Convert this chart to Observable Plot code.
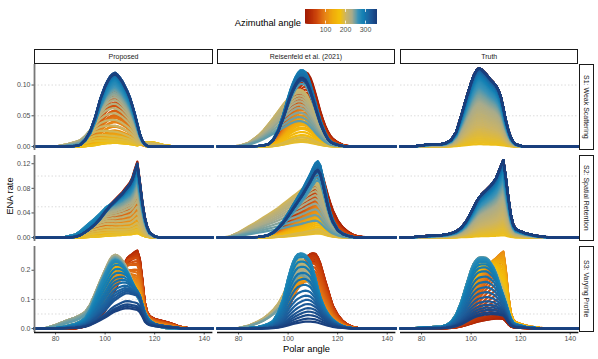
<!DOCTYPE html>
<html><head><meta charset="utf-8">
<script src="https://cdn.jsdelivr.net/npm/d3@7"></script>
<script src="https://cdn.jsdelivr.net/npm/@observablehq/plot@0.6"></script>
<style>
body{margin:0;background:#fff;font-family:"Liberation Sans",Arial,sans-serif;}
#chart{position:relative;width:598px;height:359px;overflow:hidden;background:#fff;}
.strip{position:absolute;box-sizing:border-box;border:1px solid #1a1a1a;background:#fff;font-size:7px;color:#1a1a1a;display:flex;align-items:center;justify-content:center;white-space:nowrap;}
.vt{writing-mode:vertical-rl;}
.title{position:absolute;font-size:9.3px;color:#000;white-space:nowrap;}
</style></head><body><div id="chart"></div>
<script>
// ---------------- categories / labels ----------------
const methods = ["Proposed", "Reisenfeld et al. (2021)", "Truth"];
const scenarios = ["S1: Weak Scattering", "S2: Spatial Retention", "S3: Varying Profile"];
const azimuths = [0,5,10,15,20,25,30,35,40,45,50,55,60,65,70,75,80,85,90,95,100,105,110,115,120,125,130,135,140,145,150,155,160,165,170,175,
  180,185,190,195,200,205,210,215,220,225,230,235,240,245,250,255,260,265,270,275,280,285,290,295,300,305,310,315,320,325,330,335,340,345,350,355];
const azimuthsFine = [0,2.5,5,7.5,10,12.5,15,17.5,20,22.5,25,27.5,30,32.5,35,37.5,40,42.5,45,47.5,50,52.5,55,57.5,60,62.5,65,67.5,70,72.5,75,77.5,80,82.5,85,87.5,
  90,92.5,95,97.5,100,102.5,105,107.5,110,112.5,115,117.5,120,122.5,125,127.5,130,132.5,135,137.5,140,142.5,145,147.5,150,152.5,155,157.5,160,162.5,165,167.5,170,172.5,175,177.5,
  180,182.5,185,187.5,190,192.5,195,197.5,200,202.5,205,207.5,210,212.5,215,217.5,220,222.5,225,227.5,230,232.5,235,237.5,240,242.5,245,247.5,250,252.5,255,257.5,260,262.5,265,267.5,
  270,272.5,275,277.5,280,282.5,285,287.5,290,292.5,295,297.5,300,302.5,305,307.5,310,312.5,315,317.5,320,322.5,325,327.5,330,332.5,335,337.5,340,342.5,345,347.5,350,352.5,355,357.5];
const polar = [71.5,76,80,84,88,90,92,94,96,98,100,101,102,103,104,105,106,107,108,109,110,111,112,113,114,115,116,117,118,120,122,124,126,128,130,134,138,143.5];
const xTicks = [80, 100, 120, 140];
const yTicks = [[0, 0.05, 0.10], [0, 0.04, 0.08, 0.12], [0, 0.1, 0.2]];
const gridValues = [0.05, 0.1];
const legendTicks = [100, 200, 300];
const legendStops = [0,4,8,12,16,20,24,28,32,36,40,44,48,52,56,60,64,68,72,76,80,84,88,92,96,100,104,108,112,116,120,124,128,132,136,140,144,148,152,156,160,164,168,172,176,
  180,184,188,192,196,200,204,208,212,216,220,224,228,232,236,240,244,248,252,256,260,264,268,272,276,280,284,288,292,296,300,304,308,312,316,320,324,328,332,336,340,344,348,352,356];
const paletteDomain = [0, 30, 60, 100, 140, 175, 205, 235, 265, 290, 325, 360];
const paletteColors = ["#9e1a04","#b82e07","#d04a0c","#e68317","#f0ac0c","#f4c10a","#cbb466","#a8ab8c","#3a93b8","#1380b4","#1d5e9c","#193b79"];

// ---------------- profile shapes (ENA rate vs polar angle) ----------------
const s1Truth = [0,0,0.002,0.004,0.004,0.006,0.011,0.024,0.05,0.078,0.104,0.115,0.123,0.127,0.126,0.122,0.118,0.113,0.108,0.104,0.099,0.092,0.081,0.063,0.043,0.027,0.015,0.008,0.004,0.001,0,0,0,0,0,0,0,0];
const s1PropMain = [0,0,0,0,0.001,0.003,0.011,0.025,0.048,0.077,0.099,0.107,0.114,0.118,0.12,0.117,0.112,0.106,0.098,0.09,0.08,0.067,0.053,0.037,0.021,0.01,0.004,0.001,0,0,0,0,0,0,0,0,0,0];
const s1PropLeft = [0,0,0,0.003,0.007,0.009,0.012,0.014,0.014,0.01,0.006,0.004,0.002,0.001,0,0,0,0,0,0,0,0,0,0,0,0,0,0,0,0,0,0,0,0,0,0,0,0];
const s1PropTail = [0,0,0,0,0,0,0,0,0,0,0,0,0,0,0,0,0,0,0,0,0,0,0,0,0.002,0.004,0.006,0.007,0.007,0.006,0.004,0.002,0.001,0,0,0,0,0];
const s1ReisMain = [0,0,0,0,0.001,0.002,0.004,0.012,0.028,0.052,0.08,0.093,0.104,0.113,0.12,0.124,0.124,0.121,0.113,0.101,0.087,0.072,0.057,0.043,0.032,0.022,0.014,0.009,0.006,0.003,0.001,0,0,0,0,0,0,0];
const s1ReisBroad = [0,0,0.001,0.006,0.018,0.026,0.036,0.046,0.057,0.068,0.078,0.083,0.087,0.09,0.092,0.092,0.09,0.086,0.08,0.071,0.061,0.05,0.04,0.031,0.023,0.016,0.011,0.007,0.005,0.002,0.001,0,0,0,0,0,0,0];
const s1ReisRed = [0,0,0,0,0,0.001,0.002,0.006,0.015,0.032,0.056,0.069,0.082,0.095,0.106,0.115,0.12,0.122,0.12,0.113,0.102,0.088,0.073,0.058,0.045,0.034,0.025,0.018,0.013,0.007,0.003,0.001,0,0,0,0,0,0];
const s2Truth = [0,0.0005,0.002,0.003,0.004,0.005,0.007,0.01,0.016,0.026,0.041,0.049,0.057,0.064,0.069,0.073,0.077,0.081,0.085,0.09,0.096,0.106,0.116,0.126,0.098,0.066,0.038,0.021,0.014,0.01,0.007,0.005,0.003,0.002,0.001,0,0,0];
const s2PropMain = [0,0,0,0,0.001,0.004,0.009,0.015,0.022,0.031,0.042,0.047,0.052,0.056,0.06,0.064,0.068,0.072,0.077,0.082,0.087,0.095,0.108,0.12,0.09,0.058,0.033,0.017,0.008,0.002,0,0,0,0,0,0,0,0];
const s2PropLeft = [0,0,0,0.001,0.004,0.007,0.01,0.012,0.013,0.013,0.012,0.011,0.009,0.008,0.006,0.005,0.004,0.003,0.002,0.001,0,0,0,0,0,0,0,0,0,0,0,0,0,0,0,0,0,0];
const s2ReisMain = [0,0,0,0,0.001,0.002,0.004,0.008,0.015,0.024,0.035,0.041,0.047,0.053,0.059,0.065,0.071,0.078,0.085,0.092,0.1,0.107,0.11,0.104,0.088,0.07,0.052,0.037,0.026,0.012,0.006,0.003,0.001,0,0,0,0,0];
const s2ReisBroad = [0,0.001,0.008,0.017,0.026,0.031,0.036,0.041,0.046,0.052,0.058,0.061,0.064,0.067,0.07,0.073,0.077,0.08,0.084,0.087,0.09,0.092,0.088,0.078,0.065,0.052,0.04,0.03,0.022,0.011,0.005,0.002,0,0,0,0,0,0];
const s2ReisRed = [0,0,0,0,0.001,0.002,0.004,0.008,0.014,0.021,0.03,0.036,0.042,0.048,0.055,0.062,0.07,0.078,0.086,0.093,0.1,0.108,0.115,0.112,0.1,0.085,0.07,0.057,0.045,0.028,0.017,0.01,0.005,0.002,0.001,0,0,0];
const s3TruthA = [0,0.001,0.003,0.005,0.007,0.012,0.024,0.05,0.093,0.15,0.205,0.225,0.238,0.245,0.246,0.245,0.243,0.235,0.222,0.207,0.185,0.158,0.128,0.1,0.078,0.055,0.033,0.02,0.014,0.01,0.006,0.004,0.002,0.001,0,0,0,0];
const s3TruthB = [0,0.001,0.002,0.003,0.004,0.005,0.008,0.012,0.018,0.03,0.05,0.063,0.078,0.093,0.108,0.123,0.138,0.153,0.17,0.187,0.205,0.225,0.245,0.262,0.2,0.11,0.05,0.028,0.02,0.014,0.01,0.006,0.004,0.002,0.001,0,0,0];
const s3PropA = [0,0,0.002,0.008,0.018,0.026,0.04,0.07,0.115,0.16,0.2,0.218,0.235,0.246,0.25,0.247,0.24,0.229,0.215,0.198,0.178,0.155,0.132,0.11,0.095,0.075,0.055,0.04,0.028,0.014,0.006,0.002,0,0,0,0,0,0];
const s3PropB = [0,0,0,0,0,0.002,0.006,0.012,0.022,0.036,0.055,0.07,0.09,0.11,0.13,0.15,0.172,0.195,0.218,0.235,0.245,0.253,0.262,0.268,0.24,0.17,0.09,0.055,0.042,0.033,0.029,0.025,0.02,0.014,0.007,0.001,0,0];
const s3PropK = [0,0.002,0.01,0.018,0.02,0.02,0.017,0.012,0.006,0.002,0,0,0,0,0,0,0,0,0,0,0,0,0,0,0,0,0,0,0,0,0,0,0,0,0,0,0,0];
const s3ReisA = [0,0,0.001,0.002,0.006,0.01,0.016,0.026,0.055,0.1,0.17,0.2,0.225,0.242,0.251,0.252,0.25,0.245,0.235,0.222,0.195,0.165,0.13,0.1,0.078,0.06,0.047,0.036,0.028,0.016,0.008,0.003,0.001,0,0,0,0,0];
const s3ReisB = [0,0,0,0,0.001,0.002,0.005,0.01,0.02,0.04,0.07,0.09,0.11,0.135,0.16,0.185,0.21,0.232,0.245,0.252,0.256,0.256,0.245,0.225,0.195,0.165,0.137,0.108,0.08,0.048,0.027,0.014,0.006,0.003,0.001,0,0,0];
const s3ReisK = [0,0,0.002,0.01,0.025,0.035,0.048,0.064,0.085,0.115,0.155,0.178,0.2,0.218,0.23,0.235,0.232,0.222,0.208,0.19,0.168,0.144,0.12,0.097,0.077,0.06,0.046,0.035,0.027,0.015,0.007,0.003,0.001,0,0,0,0,0];

// ---------------- amplitude per azimuth ----------------
const truthAmp = [1,1,1,1,1,1,1,1,1,.998,.995,.993,.99,.985,.98,.978,.975,.97,.965,.96,.955,.948,.94,.935,.93,.92,.91,.90,.89,.88,.87,.86,.85,.84,.83,.815,
  .80,.785,.77,.755,.74,.725,.71,.695,.68,.66,.64,.62,.60,.58,.56,.54,.52,.495,.47,.45,.43,.405,.38,.355,.33,.305,.28,.255,.23,.205,.18,.155,.13,.105,.08,.055,
  .03,.055,.08,.105,.13,.155,.18,.205,.23,.255,.28,.305,.33,.355,.38,.405,.43,.45,.47,.495,.52,.54,.56,.58,.60,.62,.64,.66,.68,.695,.71,.725,.74,.755,.77,.785,
  .80,.815,.83,.84,.85,.86,.87,.88,.89,.90,.91,.92,.93,.935,.94,.948,.955,.96,.965,.97,.975,.978,.98,.985,.99,.993,.995,.998,1,1,1,1,1,1,1,1];
const s1PropAmp = [.97,.95,.93,.9,.86,.82,.78,.74,.7,.67,.64,.6,
  .57,.55,.49,.48,.43,.41,.39,.34,.33,.28,.27,.22,
  .2,.18,.16,.14,.12,.1,.09,.08,.07,.06,.055,.05,
  .05,.07,.1,.14,.2,.28,.36,.45,.52,.58,.63,.67,
  .7,.73,.76,.78,.8,.82,.84,.86,.88,.9,.92,.94,
  .95,.96,.97,.98,.985,.99,.995,1,1,1,.99,.98];
const s1PropLeftAmp = [.4,.6,.8,1,1,1,1,1,.9,.8,.7,.6,.5,.4,.3,.2];
const s1PropTailAmp = [.3,.4,.5,.6,.7,.8,.9,1,1,1,1,1,1,1,.9,.8,.7,.6,.5,.4];
const s1ReisRedAmp = [.97,.99,.95,.92,.9,.88,.85,.8,.76,.72,.68,.64];
const s1ReisLowAmp = [.62,.6,.57,.55,.54,.51,.49,.48,.45,.44,.41,.4,.37,.36,.33,.32,.3,.28,.25,.23,.19,.15,.12,.09,.07,.06,.08,.12];
const s1ReisBroadAmp = [1,1,.98,.95,.9,.85,.8,.74,.68,.6,.52,.45];
const s1ReisHighAmp = [.82,.86,.9,.93,.96,.98,1,1,.98,.95,.93,.91,.9,.89,.88,.88,.87,.87,.88,.9];
const s2PropAmp = [1.03,1.02,1.0,.96,.92,.87,.83,.79,.75,.71,.68,.64,
  .61,.58,.55,.51,.48,.45,.42,.39,.36,.33,.3,.27,
  .25,.22,.2,.18,.16,.14,.12,.1,.09,.08,.07,.06,
  .06,.08,.11,.15,.2,.27,.34,.42,.5,.56,.61,.65,
  .68,.71,.74,.77,.79,.81,.83,.85,.87,.89,.91,.93,
  .94,.95,.96,.97,.98,.99,.99,1,1,1,.99,.98];
const s2PropLeftAmp = [.3,.5,.7,.9,1,1,1,1,1,1,1,1,1,1,1,1,1,1,.9,.8,.6,.4,.2];
const s2ReisRedAmp = [1,.98,.96,.94,.9,.86,.82,.78,.74,.7,.66,.62];
const s2ReisLowAmp = [.6,.58,.56,.54,.52,.5,.48,.46,.44,.42,.4,.38,.36,.34,.32,.3,.28,.26,.24,.21,.18,.15,.12,.09,.07,.06,.08,.12];
const s2ReisBroadAmp = [1.05,1,.97,.93,.88,.82,.75,.68,.6,.5,.4,.3];
const s2ReisHighAmp = [.85,.9,.95,1,1.05,1.1,1.12,1.13,1.12,1.08,1.04,1.02,1,1,.99,.98,.98,.99,1,1];
const s3TruthAAmp = [.12,.1,.08,.06,.05,.05,.05,.05,.06,.07,.08,.09,
  .1,.12,.14,.16,.18,.2,.22,.25,.28,.31,.34,.37,
  .4,.43,.46,.49,.52,.55,.58,.61,.64,.67,.7,.73,
  .76,.79,.82,.85,.88,.9,.92,.94,.95,.96,.97,.97,
  .97,.97,.97,.97,.97,.96,.95,.94,.92,.89,.85,.8,
  .74,.66,.58,.5,.43,.36,.3,.25,.21,.18,.15,.13];
const s3TruthBAmp = [.08,.09,.1,.11,.13,.15,.18,.22,.27,.33,.4,.48,
  .56,.64,.72,.78,.83,.86,.88,.9,.9,.89,.87,.84,
  .81,.77,.73,.69,.65,.6,.56,.51,.47,.42,.38,.33,
  .29,.25,.21,.18,.15,.13,.11,.09,.07,.06,.05,.05,
  .04,.04,.04,.04,.05,.05,.06,.07,.08,.09,.1,.11,
  .12,.13,.14,.15,.15,.15,.15,.15,.15,.14,.13,.12];
const s3PropAAmp = [.05,.05,.06,.06,.07,.08,.09,.1,.12,.14,.16,.18,
  .2,.18,.2,.25,.22,.28,.3,.35,.4,.45,.5,.55,
  .6,.64,.68,.72,.75,.78,.8,.82,.85,.87,.89,.9,
  .92,.93,.95,.96,.97,.98,.99,1,1,1,1,.99,
  .98,.97,.96,.95,.94,.93,.92,.9,.86,.8,.72,.64,
  .56,.5,.44,.38,.33,.29,.25,.22,.18,.16,.15,.14];
const s3PropBAmp = [.91,.94,.96,.97,.97,.96,.95,.93,.91,.88,.86,.83,
  .82,.79,.75,.71,.66,.6,.55,.5,.45,.4,.36,.32,
  .28,.25,.22,.2,.18,.16,.14,.12,.1,.09,.08,.07,
  .06,.05,.04,.03,.03,.02,.02,.02,.02,.02,.02,.02,
  .02,.02,.02,.02,.02,.03,.04,.06,.1,.14,.18,.22,
  .25,.27,.29,.3,.31,.32,.33,.33,.25,.22,.2,.18];
const s3PropKAmp = [.6,.8,1,1,1,1,1,1,1,1,.9,.7,.5];
const s3ReisAAmp = [.04,.04,.04,.05,.05,.05,.06,.06,.07,.08,.09,.1,
  .12,.14,.16,.19,.22,.25,.28,.32,.36,.4,.44,.48,
  .52,.56,.6,.64,.68,.72,.75,.78,.8,.82,.84,.86,
  .88,.9,0,0,0,0,0,0,0,0,0,0,
  0,0,0,.97,.99,1,1,.99,.97,.93,.86,.78,
  .68,.58,.48,.38,.3,.23,.17,.12,.09,.07,.05,.04];
const s3ReisBAmp = [.87,.9,.93,.95,.97,.97,.96,.94,.92,.89,.85,.81,
  .78,.72,.66,.6,.54,.48,.42,.37,.32,.28,.24,.2,
  .17,.14,.12,.1,.08,.07,.06,.05,.04,.03,.03,.02,
  .02,.02,.02,.02,.02,.02,.02,.02,.02,.02,.02,.02,
  .02,.02,.02,.02,.02,.02,.03,.04,.05,.06,.07,.08,
  .1,.12,.14,.16,.17,.18,.18,.17,.15,.12,.09,.06];
const s3ReisKAmp = [.9,.95,1,1,.98,.95,.92,.88,.85,.82,.8,.78,.76];

// ---------------- panel composition: [shape, first azimuth, amplitudes] ----------------
const panels = [
  {row:0, col:0, az:azimuths, comps:[[s1PropMain,0,s1PropAmp],[s1PropLeft,185,s1PropLeftAmp],[s1PropTail,120,s1PropTailAmp]]},
  {row:0, col:1, az:azimuths, comps:[[s1ReisRed,0,s1ReisRedAmp],[s1ReisMain,60,s1ReisLowAmp],[s1ReisBroad,200,s1ReisBroadAmp],[s1ReisMain,260,s1ReisHighAmp]]},
  {row:0, col:2, az:azimuthsFine, comps:[[s1Truth,0,truthAmp]]},
  {row:1, col:0, az:azimuths, comps:[[s2PropMain,0,s2PropAmp],[s2PropLeft,190,s2PropLeftAmp]]},
  {row:1, col:1, az:azimuths, comps:[[s2ReisRed,0,s2ReisRedAmp],[s2ReisMain,60,s2ReisLowAmp],[s2ReisBroad,200,s2ReisBroadAmp],[s2ReisMain,260,s2ReisHighAmp]]},
  {row:1, col:2, az:azimuthsFine, comps:[[s2Truth,0,truthAmp]]},
  {row:2, col:0, az:azimuths, comps:[[s3PropA,0,s3PropAAmp],[s3PropB,0,s3PropBAmp],[s3PropK,195,s3PropKAmp]]},
  {row:2, col:1, az:azimuths, comps:[[s3ReisA,0,s3ReisAAmp],[s3ReisB,0,s3ReisBAmp],[s3ReisK,190,s3ReisKAmp]]},
  {row:2, col:2, az:azimuths, comps:[[s3TruthA,0,s3TruthAAmp],[s3TruthB,0,s3TruthBAmp]]}
];

// ---------------- layout ----------------
const colX = [34.3, 216.8, 400];
const colW = 178.4;
const rowY = [63.5, 154.5, 246];
const rowH = 86;
const xDomain = [71.5, 143.5];
const yDomains = [[-0.0064, 0.1334], [-0.0064, 0.1334], [-0.0134, 0.2814]];
const yFormats = [".2f", ".2f", ".1f"];
const FONT = '"Liberation Sans", Arial, sans-serif';
const colorOpts = {type: "linear", domain: paletteDomain, range: paletteColors, interpolate: "rgb", clamp: true};

function panelLines(azList, comps) {
  const sums = new Map();
  for (const [shape, fromAz, amps] of comps) {
    const k0 = azList.indexOf(fromAz);
    amps.forEach((a, i) => {
      const az = azList[k0 + i];
      if (!sums.has(az)) sums.set(az, polar.map(() => 0));
      const arr = sums.get(az);
      shape.forEach((v, j) => { arr[j] += a * v; });
    });
  }
  const rows = [];
  for (const az of azList) {
    if (!sums.has(az)) continue;
    sums.get(az).forEach((v, j) => rows.push({az, theta: polar[j], value: v}));
  }
  return rows;
}

const chart = document.getElementById("chart");
function place(el, left, top) {
  el.style.position = "absolute"; el.style.left = left + "px"; el.style.top = top + "px";
  chart.appendChild(el);
}

for (const p of panels) {
  const showY = p.col === 0, showX = p.row === 2;
  const ml = showY ? 34 : 0, mb = showX ? 18 : 0;
  const data = panelLines(p.az, p.comps);
  const svg = Plot.plot({
    width: colW + ml, height: rowH + mb,
    marginLeft: ml, marginRight: 0, marginTop: 0, marginBottom: mb,
    x: {domain: xDomain, axis: showX ? "bottom" : null, ticks: xTicks, tickSize: 2.5, tickPadding: 1.5, label: null},
    y: {domain: yDomains[p.row], axis: showY ? "left" : null, ticks: yTicks[p.row], tickFormat: d3.format(yFormats[p.row]), tickSize: 2.5, tickPadding: 1.5, label: null},
    color: colorOpts,
    style: {fontSize: "7px", fontFamily: FONT, color: "#4d4d4d", background: "transparent", overflow: "visible", maxWidth: "none"},
    marks: [
      Plot.ruleY(gridValues, {stroke: "#c4c4c4", strokeWidth: 0.6, strokeDasharray: "1.5,2"}),
      Plot.line(data, {x: "theta", y: "value", z: "az", stroke: "az", strokeWidth: 2.2}),
      showY ? Plot.ruleX([xDomain[0]], {stroke: "#777", strokeWidth: 1.8}) : null,
      showX ? Plot.ruleY([yDomains[p.row][0]], {stroke: "#111", strokeWidth: 1.3}) : null
    ]
  });
  place(svg, colX[p.col] - ml, rowY[p.row]);
}

// strips
methods.forEach((m, c) => {
  const d = document.createElement("div");
  d.className = "strip"; d.textContent = m;
  d.style.width = colW + "px"; d.style.height = "14.5px";
  place(d, colX[c], 49);
});
scenarios.forEach((s, r) => {
  const d = document.createElement("div");
  d.className = "strip";
  d.innerHTML = '<span class="vt">' + s + '</span>';
  d.style.width = "14.5px"; d.style.height = rowH + "px";
  place(d, 579.3, rowY[r]);
});

// axis titles
const yt = document.createElement("div");
yt.className = "title"; yt.textContent = "ENA rate";
yt.style.transform = "translate(-50%,-50%) rotate(-90deg)";
place(yt, 9.5, 196);
const xt = document.createElement("div");
xt.className = "title"; xt.textContent = "Polar angle";
xt.style.transform = "translate(-50%,-50%)";
place(xt, 306.5, 349);

// legend (each rect runs to the end of the bar; later rects cover earlier ones -> seamless)
const lt = document.createElement("div");
lt.className = "title"; lt.textContent = "Azimuthal angle";
lt.style.transform = "translate(-100%,-50%)";
place(lt, 301, 22.5);
const leg = Plot.plot({
  width: 92, height: 27, marginLeft: 10, marginRight: 10, marginTop: 0, marginBottom: 12.5,
  x: {domain: [0, 360], ticks: legendTicks, tickSize: 0, tickPadding: 3, label: null},
  y: {domain: [0, 1], axis: null},
  color: colorOpts,
  style: {fontSize: "7px", fontFamily: FONT, color: "#4d4d4d", background: "transparent", overflow: "visible", maxWidth: "none"},
  marks: [
    Plot.rect(legendStops, {x1: d => d, x2: 360, y1: 0, y2: 1, fill: d => d + 2, inset: 0}),
    Plot.ruleX(legendTicks, {y1: 0, y2: 0.2, stroke: "white", strokeWidth: 0.8}),
    Plot.ruleX(legendTicks, {y1: 0.8, y2: 1, stroke: "white", strokeWidth: 0.8})
  ]
});
place(leg, 295, 9);
</script></body></html>
